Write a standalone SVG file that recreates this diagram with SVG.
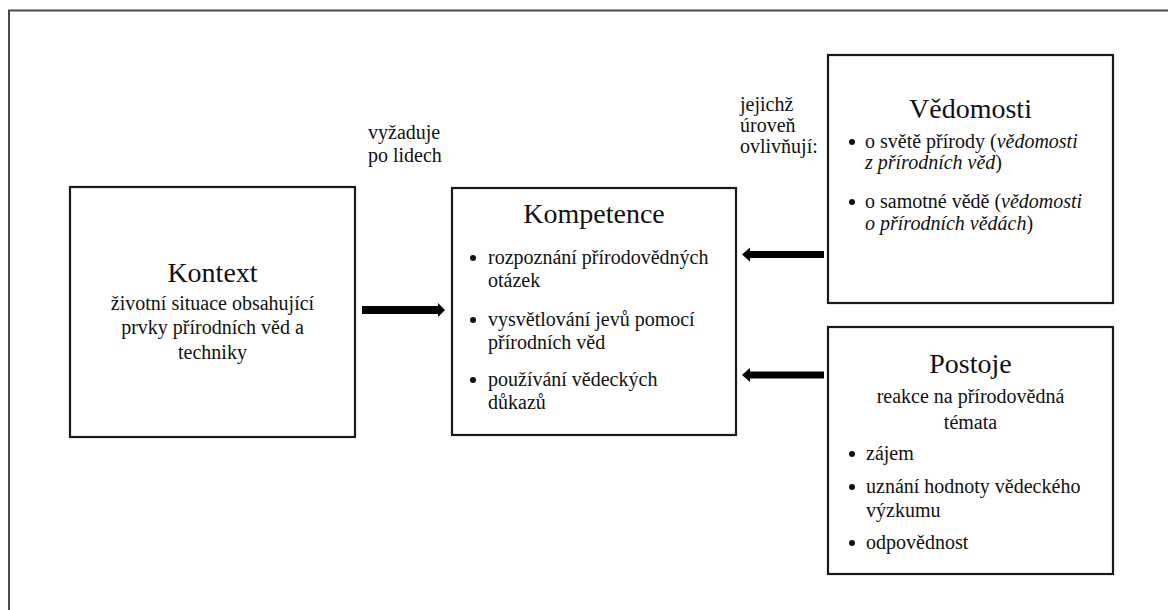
<svg xmlns="http://www.w3.org/2000/svg" width="1168" height="610" viewBox="0 0 1168 610" font-family="'Liberation Serif', 'Times New Roman', serif">
<style>
  .frame{fill:none;stroke:#4a4a4a;stroke-width:2}
  .box{fill:#fff;stroke:#1a1a1a;stroke-width:2.2}
  .title{font-family:"Liberation Serif","Times New Roman",serif;font-size:28px;text-anchor:middle;fill:#111}
  .body-text{font-family:"Liberation Serif","Times New Roman",serif;font-size:20px;fill:#111}
  .bullet-dot{fill:#111}
  .centred{text-anchor:middle}
  .ital{font-style:italic}
  .arrow{fill:#000}
</style>
<rect width="1168" height="610" fill="#fff"/>
<rect class="frame" x="9" y="10.5" width="1200" height="700"/>

<g id="kontext">
  <rect class="box" x="70" y="187" width="285" height="250"/>
  <text class="title" x="212.5" y="282">Kontext</text>
  <text class="body-text centred" x="212.5" y="310">životní situace obsahující</text>
  <text class="body-text centred" x="212.5" y="334">prvky přírodních věd a</text>
  <text class="body-text centred" x="212.5" y="359">techniky</text>
</g>

<g id="kompetence">
  <rect class="box" x="452" y="188" width="284" height="247"/>
  <text class="title" x="594" y="223">Kompetence</text>
  <circle class="bullet-dot" cx="473" cy="258" r="3"/>
  <text class="body-text" x="488" y="264">rozpoznání přírodovědných</text>
  <text class="body-text" x="488" y="287">otázek</text>
  <circle class="bullet-dot" cx="473" cy="320" r="3"/>
  <text class="body-text" x="488" y="326">vysvětlování jevů pomocí</text>
  <text class="body-text" x="488" y="349">přírodních věd</text>
  <circle class="bullet-dot" cx="473" cy="380" r="3"/>
  <text class="body-text" x="488" y="386">používání vědeckých</text>
  <text class="body-text" x="488" y="409">důkazů</text>
</g>

<g id="vedomosti">
  <rect class="box" x="828" y="55" width="285" height="248"/>
  <text class="title" x="970.5" y="118">Vědomosti</text>
  <circle class="bullet-dot" cx="852" cy="142" r="3"/>
  <text class="body-text" x="865" y="148">o světě přírody (<tspan class="ital">vědomosti</tspan></text>
  <text class="body-text" x="865" y="169"><tspan class="ital">z přírodních věd</tspan>)</text>
  <circle class="bullet-dot" cx="852" cy="202" r="3"/>
  <text class="body-text" x="865" y="208">o samotné vědě (<tspan class="ital">vědomosti</tspan></text>
  <text class="body-text" x="865" y="230"><tspan class="ital">o přírodních vědách</tspan>)</text>
</g>

<g id="postoje">
  <rect class="box" x="828" y="327" width="285" height="247"/>
  <text class="title" x="970.5" y="373">Postoje</text>
  <text class="body-text centred" x="970.5" y="403">reakce na přírodovědná</text>
  <text class="body-text centred" x="970.5" y="429">témata</text>
  <circle class="bullet-dot" cx="852" cy="454" r="3"/>
  <text class="body-text" x="866" y="460">zájem</text>
  <circle class="bullet-dot" cx="852" cy="487" r="3"/>
  <text class="body-text" x="866" y="493">uznání hodnoty vědeckého</text>
  <text class="body-text" x="866" y="517">výzkumu</text>
  <circle class="bullet-dot" cx="852" cy="543" r="3"/>
  <text class="body-text" x="866" y="549">odpovědnost</text>
</g>

<g id="labels">
  <text class="body-text" x="368" y="139">vyžaduje</text>
  <text class="body-text" x="368" y="162">po lidech</text>
  <text class="body-text" x="740" y="111">jejichž</text>
  <text class="body-text" x="740" y="132">úroveň</text>
  <text class="body-text" x="740" y="153">ovlivňují:</text>
</g>

<g id="connectors">
  <polygon class="arrow" points="362,306 438,306 438,303 445,310 438,317 438,314 362,314"/>
  <polygon class="arrow" points="824,251 750,251 750,247.5 742,254.5 750,261.5 750,258 824,258"/>
  <polygon class="arrow" points="824,371.5 750,371.5 750,368 742,375 750,382 750,378.5 824,378.5"/>
</g>
</svg>
